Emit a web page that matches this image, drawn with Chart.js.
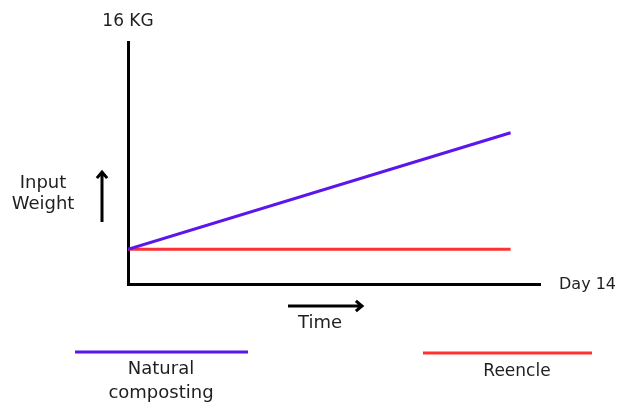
<!DOCTYPE html>
<html>
<head>
<meta charset="utf-8">
<script src="https://cdn.jsdelivr.net/npm/chart.js@4"></script>
<style>
  html, body { margin: 0; padding: 0; background: #fff; }
  #wrap { width: 619px; height: 403px; }
</style>
</head>
<body>
<div id="wrap"><canvas id="myChart" width="619" height="403"></canvas></div>
<script>
    // values
    const days = [0, 13];
    const naturalComposting = [2.3, 10];
    const reencle = [2.3, 2.3];
    const seriesNames = ['Natural composting', 'Reencle'];
    const seriesColors = ['#5b17eb', '#ff3131'];

    const FONT = '"DejaVu Sans", sans-serif';
    const INK = '#1f1f1f';

    const data = {
        datasets: [{
            label: seriesNames[0],
            borderColor: seriesColors[0],
            borderWidth: 3,
            pointRadius: 0,
            data: days.map((d, i) => ({ x: d, y: naturalComposting[i] })),
        }, {
            label: seriesNames[1],
            borderColor: seriesColors[1],
            borderWidth: 3,
            pointRadius: 0,
            data: days.map((d, i) => ({ x: d, y: reencle[i] })),
        }]
    };

    function arrow(ctx, x1, y1, x2, y2) {
        const a = Math.atan2(y2 - y1, x2 - x1);
        ctx.beginPath();
        ctx.moveTo(x1, y1);
        ctx.lineTo(x2, y2);
        ctx.moveTo(x2 - 8 * Math.cos(a - 0.7), y2 - 8 * Math.sin(a - 0.7));
        ctx.lineTo(x2, y2);
        ctx.lineTo(x2 - 8 * Math.cos(a + 0.7), y2 - 8 * Math.sin(a + 0.7));
        ctx.stroke();
    }

    // axis labels, arrows and the legend under the chart
    const decorations = {
        id: 'decorations',
        afterDraw(chart) {
            const ctx = chart.ctx;
            const area = chart.chartArea;
            ctx.save();
            ctx.fillStyle = INK;
            ctx.strokeStyle = '#000';
            ctx.lineWidth = 3;
            ctx.lineCap = 'butt';
            ctx.font = '17px ' + FONT;
            ctx.textAlign = 'center';
            ctx.textBaseline = 'middle';
            ctx.fillText('16 KG', area.left, 22);

            ctx.font = '18px ' + FONT;
            ctx.fillText('Input', 43, 183);
            ctx.fillText('Weight', 43, 204);
            arrow(ctx, 102, 222, 102, 172);

            ctx.font = '16px ' + FONT;
            ctx.textAlign = 'left';
            ctx.fillText('Day 14', area.right + 19, area.bottom + 1);

            ctx.textAlign = 'center';
            arrow(ctx, 288, 306, 362, 306);
            ctx.font = '18px ' + FONT;
            ctx.fillText('Time', 320, 323);

            // legend
            const legend = [[75, 248, 352], [423, 592, 353]];
            chart.data.datasets.forEach((ds, i) => {
                const [x1, x2, y] = legend[i];
                ctx.strokeStyle = ds.borderColor;
                ctx.beginPath();
                ctx.moveTo(x1, y);
                ctx.lineTo(x2, y);
                ctx.stroke();
            });
            ctx.fillText('Natural', 161, 369);
            ctx.fillText('composting', 161, 393);
            ctx.font = '17px ' + FONT;
            ctx.fillText('Reencle', 517, 372);
            ctx.restore();
        }
    };

    const config = {
        type: 'line',
        data: data,
        options: {
            responsive: false,
            animation: false,
            layout: { padding: { left: 128, right: 79, top: 42, bottom: 119 } },
            plugins: {
                legend: { display: false },
                tooltip: { enabled: false }
            },
            scales: {
                x: {
                    type: 'linear', min: 0, max: 14,
                    grid: { display: false, drawTicks: false },
                    ticks: { display: false },
                    border: { color: '#000', width: 3 }
                },
                y: {
                    min: 0, max: 16,
                    grid: { display: false, drawTicks: false },
                    ticks: { display: false },
                    border: { color: '#000', width: 3 }
                }
            }
        },
        plugins: [decorations]
    };

    new Chart(document.getElementById('myChart'), config);
</script>
</body>
</html>
